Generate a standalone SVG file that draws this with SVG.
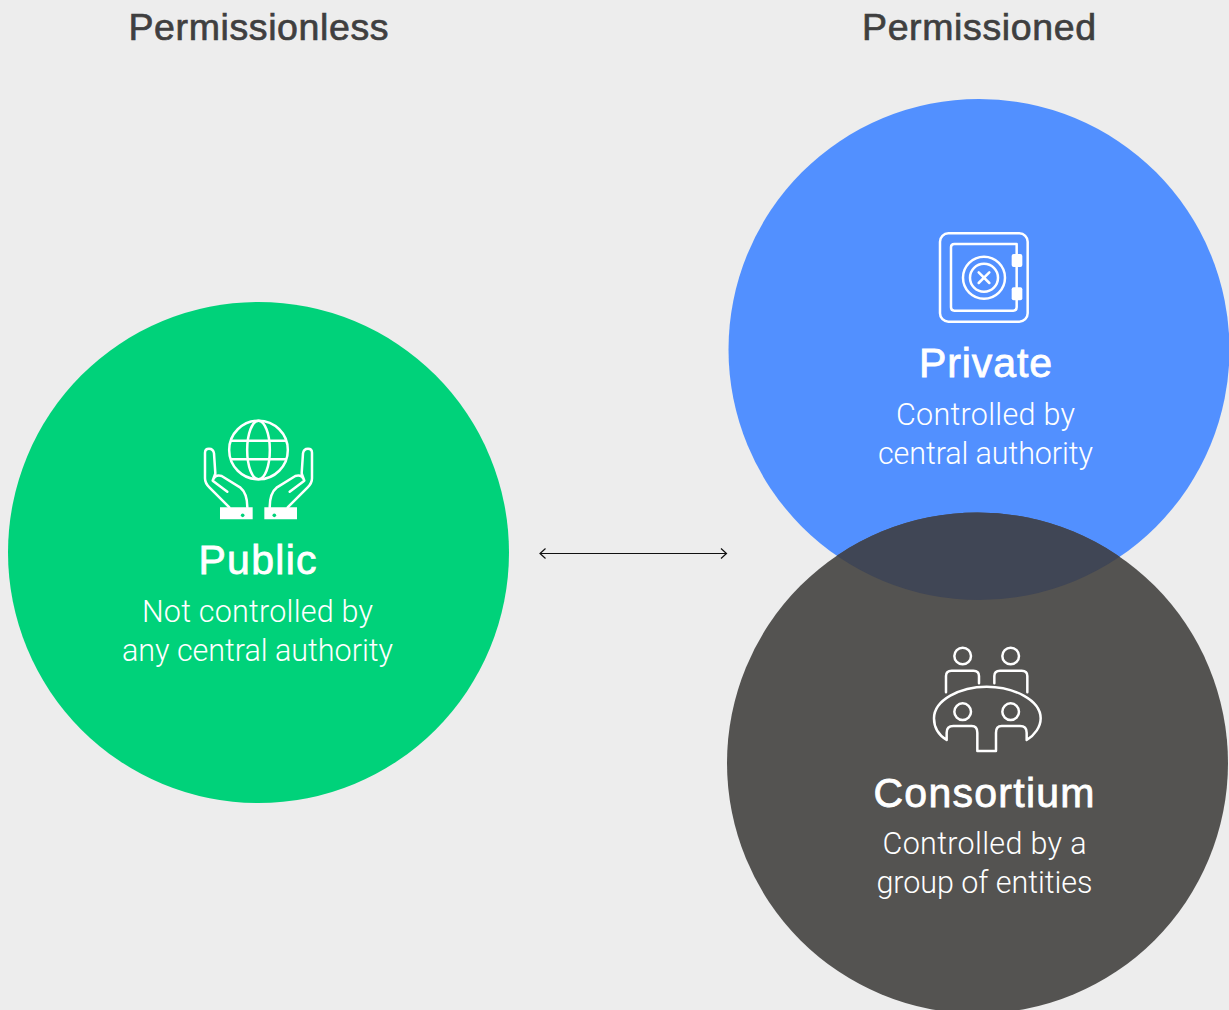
<svg xmlns="http://www.w3.org/2000/svg" width="1229" height="1010" viewBox="0 0 1229 1010">
<style>
text{text-anchor:middle;font-family:"Liberation Sans",Arial,sans-serif}
.h{font-size:37.5px;fill:#3f3f3f;stroke:#3f3f3f;stroke-width:.7px}
.t{font-size:41px;fill:#fff;stroke:#fff;stroke-width:.8px}
.d{font-family:Roboto,"Liberation Sans",sans-serif;font-size:30.500px;font-weight:300;fill:#fff}
.i{fill:none;stroke:#fff;stroke-width:7.500;stroke-linecap:round;stroke-linejoin:round}
.c{fill:#fff;stroke:none}
</style>
<defs>
<clipPath id="bc"><circle cx="979" cy="349.5" r="250.5"/></clipPath>
</defs>
<rect width="1229" height="1010" fill="#ededed"/>
<text class="h" x="258.5" y="40" textLength="260">Permissionless</text>
<text class="h" x="979" y="40" textLength="234">Permissioned</text>
<g id="connectors"><path d="M540 553.500H726.500M545.500 548.500 540 553.500 545.500 558.500M721 548.500 726.500 553.500 721 558.500" fill="none" stroke="#111" stroke-width="1.200"/></g>
<g id="public">
<circle cx="258.5" cy="552.5" r="250.5" fill="#00d27a"/>
<g transform="translate(190 410) scale(.33333)">
<circle class="i" cx="205.5" cy="120" r="88"/>
<ellipse class="i" cx="205.5" cy="120" rx="34" ry="88"/>
<path class="i" d="M124 92H287M124 148H287"/>
<g id="hand"><path class="i" d="M118 292 58 232Q45 220 45 205V128Q45 116 57 116 70 116 72 130L76 190 68 212 112 245M68 212Q75 192 95 198L150 232Q172 250 172 292"/><path class="c" d="M90 292H188V328H90Z"/><circle cx="158" cy="316" r="5.500" fill="#00d27a"/></g>
<use href="#hand" transform="matrix(-1 0 0 1 411 0)"/>
</g>
<text class="t" x="257.500" y="574" textLength="118">Public</text>
<text class="d" x="257.500" y="622" textLength="231">Not controlled by</text>
<text class="d" x="257.500" y="661" textLength="271">any central authority</text>
</g>
<g id="private">
<circle cx="979" cy="349.5" r="250.5" fill="#5290ff"/>
</g>
<g id="consortium">
<circle cx="977.5" cy="763" r="250.5" fill="#545351"/>
<circle cx="977.5" cy="763" r="250.5" fill="#404655" clip-path="url(#bc)"/>
<g transform="translate(920 640) scale(.33333)">
<circle class="i" cx="128" cy="48" r="25"/><circle class="i" cx="272" cy="48" r="25"/><circle class="i" cx="128" cy="215" r="25"/><circle class="i" cx="272" cy="215" r="25"/>
<path class="i" d="M78 157V108Q78 92 95 92H160Q177 92 177 108V130M223 130V108Q223 92 240 92H305Q322 92 322 108V157"/>
<path class="i" d="M80 300C55 285 42 260 42 235 42 180 120 140 200 140 280 140 362 180 362 235 362 260 345 285 320 300V278Q320 258 300 258H245Q228 258 228 278V333H172V278Q172 258 155 258H100Q80 258 80 278Z"/>
</g>
<text class="t" x="984" y="807" textLength="221">Consortium</text>
<text class="d" x="984.500" y="854" textLength="204">Controlled by a</text>
<text class="d" x="984.500" y="893" textLength="216">group of entities</text>
</g>
<g id="private-content">
<g transform="translate(925 225) scale(.33333)">
<rect class="i" x="45" y="25" width="263" height="265" rx="25"/>
<path class="i" d="M275 88V57H88Q78 57 78 67V247Q78 257 88 257H265Q275 257 275 247V225M275 125V188"/>
<rect class="c" x="260" y="87" width="32" height="39" rx="6"/><rect class="c" x="260" y="187" width="32" height="39" rx="6"/>
<circle class="i" cx="177" cy="158" r="63"/><circle class="i" cx="177" cy="158" r="42"/>
<path class="i" d="M161 142 193 174M193 142 161 174"/>
</g>
<text class="t" x="985.500" y="377" textLength="133">Private</text>
<text class="d" x="985.500" y="425" textLength="179">Controlled by</text>
<text class="d" x="985.500" y="464" textLength="215">central authority</text>
</g>
</svg>
